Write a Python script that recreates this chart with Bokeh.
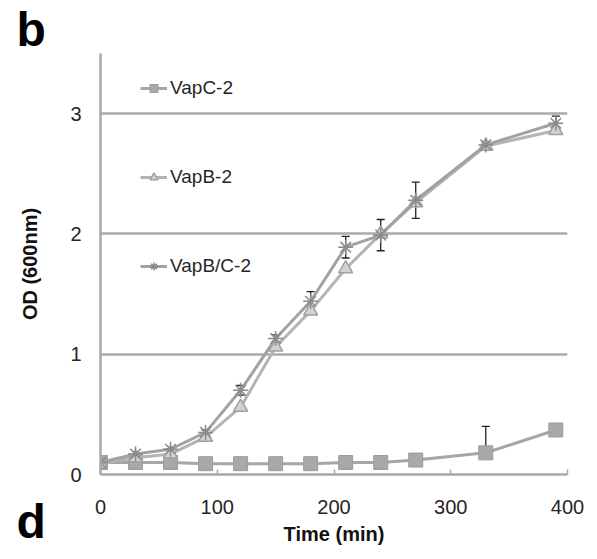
from bokeh.plotting import figure
from bokeh.models import ColumnDataSource, Whisker, FixedTicker, Legend, LegendItem, TeeHead, Title
from bokeh.embed import file_html
from bokeh.resources import INLINE

time = [0, 30, 60, 90, 120, 150, 180, 210, 240, 270, 330, 390]
vapc = [0.10, 0.10, 0.10, 0.09, 0.09, 0.09, 0.09, 0.10, 0.10, 0.12, 0.18, 0.37]
vapb = [0.09, 0.14, 0.17, 0.31, 0.56, 1.06, 1.36, 1.71, 2.00, 2.26, 2.73, 2.86]
vapbc = [0.10, 0.17, 0.21, 0.35, 0.70, 1.13, 1.44, 1.89, 1.99, 2.28, 2.74, 2.92]
vapbc_err = [0.0, 0.0, 0.0, 0.02, 0.04, 0.03, 0.08, 0.09, 0.13, 0.15, 0.02, 0.06]
vapc_err_up = [0.0, 0.0, 0.0, 0.0, 0.0, 0.0, 0.0, 0.0, 0.0, 0.04, 0.22, 0.0]

x_ticks = [0, 100, 200, 300, 400]
y_ticks = [0, 1, 2, 3]
labels = ["VapC-2", "VapB-2", "VapB/C-2"]
panel_labels = ["b", "d"]

FONT = "Liberation Sans"

p = figure(frame_width=467, frame_height=421, x_range=(0, 400), y_range=(0, 3.5),
           output_backend="svg", toolbar_location=None,
           min_border_left=100, min_border_right=30, min_border_top=53, min_border_bottom=85)
p.outline_line_color = None
p.xgrid.grid_line_color = None
p.ygrid.ticker = FixedTicker(ticks=y_ticks)
p.ygrid.grid_line_color = "#ababab"
p.ygrid.grid_line_width = 2.5

for ax in (p.xaxis[0], p.yaxis[0]):
    ax.axis_line_color = "#a8a8a8"
    ax.axis_line_width = 2.5
    ax.major_label_text_font = FONT
    ax.major_label_text_font_size = "20px"
    ax.major_label_text_color = "#262626"
    ax.axis_label_text_font = FONT
    ax.axis_label_text_font_size = "20px"
    ax.axis_label_text_font_style = "bold"
    ax.axis_label_text_color = "#111111"
    ax.minor_tick_line_color = None

p.xaxis.ticker = FixedTicker(ticks=x_ticks)
p.xaxis.major_tick_in = 5
p.xaxis.major_tick_out = 0
p.xaxis.major_tick_line_color = "#a8a8a8"
p.xaxis.major_tick_line_width = 1.5
p.xaxis.major_label_standoff = 25
p.xaxis.axis_label = "Time (min)"
p.xaxis.axis_label_standoff = 6

p.yaxis.ticker = FixedTicker(ticks=y_ticks)
p.yaxis.major_tick_line_color = None
p.yaxis.major_label_standoff = 13
p.yaxis.axis_label = "OD (600nm)"
p.yaxis.axis_label_standoff = 26

src = ColumnDataSource(dict(
    t=time, c=vapc, b=vapb, bc=vapbc,
    bc_lo=[v - e for v, e in zip(vapbc, vapbc_err)],
    bc_hi=[v + e for v, e in zip(vapbc, vapbc_err)],
    c_lo=vapc,
    c_hi=[v + e for v, e in zip(vapc, vapc_err_up)],
))

# error bars
for lo, hi in (("bc_lo", "bc_hi"), ("c_lo", "c_hi")):
    w = Whisker(source=src, base="t", lower=lo, upper=hi,
                line_color="#222222", line_width=1.3,
                upper_head=TeeHead(size=8, line_color="#222222", line_width=1.3),
                lower_head=TeeHead(size=8, line_color="#222222", line_width=1.3))
    p.add_layout(w)

l1 = p.line("t", "c", source=src, line_color="#a6a6a6", line_width=3)
m1 = p.scatter("t", "c", source=src, marker="square", size=14,
               fill_color="#a8a8a8", line_color="#9c9c9c")
l2 = p.line("t", "b", source=src, line_color="#b4b4b4", line_width=3)
m2 = p.scatter("t", "b", source=src, marker="triangle", size=14,
               fill_color="#d2d2d2", line_color="#a0a0a0", line_width=1.5)
l3 = p.line("t", "bc", source=src, line_color="#a2a2a2", line_width=3)
m3 = p.scatter("t", "bc", source=src, marker="asterisk", size=15,
               line_color="#8a8a8a", line_width=1.5)

legend = Legend(items=[
    LegendItem(label=labels[0], renderers=[l1, m1]),
    LegendItem(label=labels[1], renderers=[l2, m2]),
    LegendItem(label=labels[2], renderers=[l3, m3]),
], location=(40, 197))
legend.glyph_width = 27
legend.glyph_height = 20
legend.label_height = 20
legend.spacing = 67
legend.padding = 0
legend.margin = 0
legend.label_standoff = 3
legend.border_line_color = None
legend.background_fill_alpha = 0
legend.label_text_font = FONT
legend.label_text_font_size = "19px"
legend.label_text_color = "#262626"
p.add_layout(legend)

# panel letters as titles in the top and bottom borders
tb = Title(text=panel_labels[0], align="left", offset=-84, standoff=-9,
           vertical_align="top", text_font=FONT, text_font_size="48px",
           text_font_style="bold", text_color="#000000")
p.add_layout(tb, "above")

td = Title(text=panel_labels[1], align="left", offset=-84, standoff=-106,
           vertical_align="top", text_font=FONT, text_font_size="48px",
           text_font_style="bold", text_color="#000000")
p.add_layout(td, "below")

open("out.html", "w").write(file_html(p, INLINE))
